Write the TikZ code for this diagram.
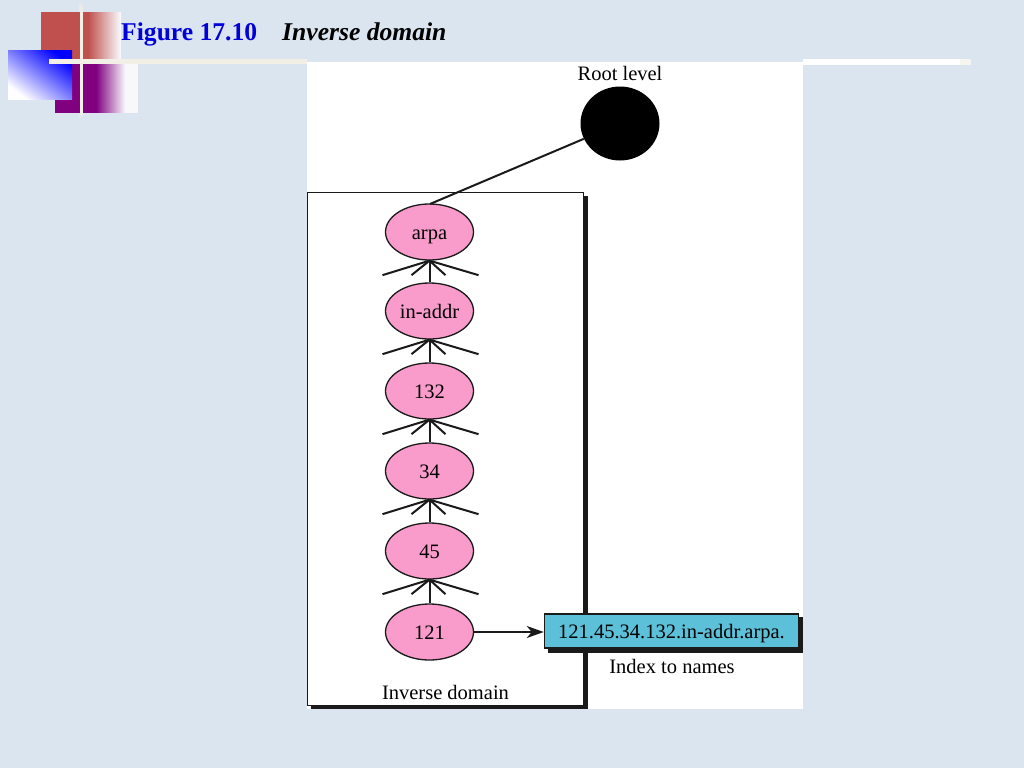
\documentclass[tikz,border=0pt]{standalone}
\usepackage{fontspec}
\setmainfont{Liberation Serif}
\newfontfamily\titlefont{Liberation Serif}
\usetikzlibrary{shapes.geometric,arrows.meta}
\definecolor{bgblue}{HTML}{DBE5F0}
\definecolor{cream}{HTML}{F1EFE6}
\definecolor{redsq}{HTML}{C0504D}
\definecolor{purplesq}{HTML}{800080}
\definecolor{fadewhite}{HTML}{F8F8FB}
\definecolor{pinknode}{HTML}{F99BCB}
\definecolor{cyanbox}{HTML}{5CC0D8}
\definecolor{inkc}{HTML}{1A1A1A}
\tikzset{
  x=1pt,y=-1pt,
  domnode/.style={ellipse,draw=inkc,line width=1.3pt,fill=pinknode,minimum width=88pt,minimum height=56pt,inner sep=0pt,font=\fontsize{20.5}{22}\selectfont,text=black,text height=16pt,text depth=2pt},
  lbl/.style={font=\fontsize{20.5}{22}\selectfont,text=black,inner sep=0pt,text height=16pt,text depth=2pt},
  edge/.style={draw=inkc,line width=2pt},
  titlelbl/.style={inner sep=0pt,anchor=base west,font=\titlefont\fontsize{25.6}{28}\selectfont}
}
\begin{document}
\begin{tikzpicture}
\useasboundingbox (0,0) rectangle (1024,768);
\fill[bgblue] (0,0) rectangle (1024,768);
% decoration
\fill[redsq] (41,12) rectangle (88,60);
\foreach \i in {0,...,32}{
  \pgfmathsetmacro{\pc}{100-100*\i/32}
  \fill[redsq!\pc!fadewhite] (88+\i,12) rectangle (89.2+\i,60);
}
\fill[purplesq] (55,62) rectangle (96,113);
\foreach \i in {0,...,29}{
  \pgfmathsetmacro{\pc}{100-100*\i/29}
  \fill[purplesq!\pc!fadewhite] (96+\i,62) rectangle (97.2+\i,113);
}
\fill[fadewhite] (125,62) rectangle (138,113);
\shade[bottom color=white,middle color=blue!18!white,top color=blue,shading angle=-37] (8,51) rectangle (72,99);
\shade[top color=bgblue,bottom color=cream] (79.5,0) rectangle (83,12);
\fill[cream] (79.5,12) rectangle (83,113);
\shade[top color=cream,bottom color=bgblue] (79.5,113) rectangle (83,118);
\fill[cream] (49,58.5) rectangle (307,64);
\fill[white] (307,62) rectangle (803,709);
\fill[white] (803,58.5) rectangle (960,64.5);
\fill[cream!60!white] (960,58.5) rectangle (971,65);
% title
\node[titlelbl,text=blue!85!black] (figno) at (121,41) {\bfseries Figure 17.10};
\node[titlelbl,text=black] (figname) at (282,41) {\bfseries\itshape Inverse domain};
% inverse domain box
\fill[inkc] (311,196) rectangle (587.5,708.5);
\draw[draw=inkc,line width=1.5pt,fill=white] (307.5,192.5) rectangle (583.5,705.5);
% root
\node[lbl] (rootlbl) at (620,74) {Root level};
\node[ellipse,fill=black,minimum width=79pt,minimum height=74pt,inner sep=0pt] (root) at (620,123.5) {};
% nodes
\node[domnode] (arpa) at (429.5,232) {arpa};
\node[domnode] (inaddr) at (429.5,311) {in-addr};
\node[domnode] (n132) at (429.5,391) {132};
\node[domnode] (n34) at (429.5,471) {34};
\node[domnode] (n45) at (429.5,551) {45};
\node[domnode] (n121) at (429.5,632) {121};
\coordinate (rootfoot) at (430,204);
\draw[edge] (root) -- (rootfoot);
% fans
\foreach \up/\low in {arpa/inaddr,inaddr/n132,n132/n34,n34/n45,n45/n121}{
  \draw[edge] (\up.south) -- (\low.north);
  \draw[edge] (\up.south) -- ++(-47,14.5);
  \draw[edge] (\up.south) -- ++(-18,14.5);
  \draw[edge] (\up.south) -- ++(16,14.5);
  \draw[edge] (\up.south) -- ++(49,14.5);
}
% index box
\fill[inkc] (548,617) rectangle (803,652.5);
\node[draw=inkc,line width=1.5pt,fill=cyanbox,minimum width=254pt,minimum height=34pt,inner sep=0pt,font=\fontsize{20.5}{22}\selectfont,text=black,text height=17pt,text depth=2pt] (idx) at (671.5,631) {121.45.34.132.in-addr.arpa.};
\draw[edge,-{Stealth[length=17pt,width=12pt,inset=5pt]}] (n121.east) -- (idx.west |- n121.east);
\node[lbl] (idxlbl) at (672,666) {Index to names};
\node[lbl] (domlbl) at (445.5,692) {Inverse domain};
\end{tikzpicture}
\end{document}
